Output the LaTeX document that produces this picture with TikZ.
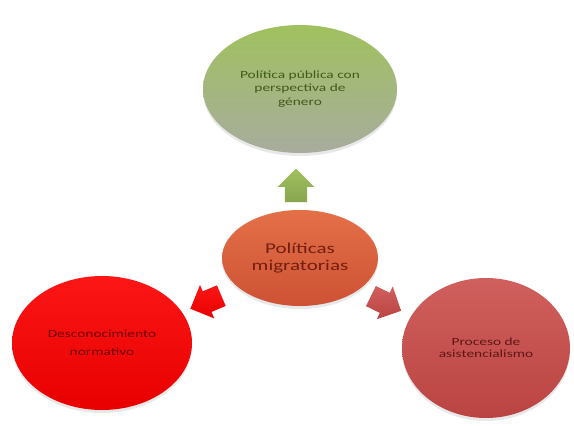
\documentclass[tikz,border=0pt]{standalone}
\usepackage{fontspec}
\setmainfont{Carlito}[FakeStretch=1.4]
\usetikzlibrary{shapes.geometric,shapes.arrows,shadows}

\definecolor{verdeA}{RGB}{160,193,94}
\definecolor{verdeB}{RGB}{168,172,158}
\definecolor{naranjaA}{RGB}{228,112,72}
\definecolor{naranjaB}{RGB}{205,82,52}
\definecolor{rojoA}{RGB}{252,22,22}
\definecolor{rojoB}{RGB}{232,0,0}
\definecolor{granaA}{RGB}{208,96,93}
\definecolor{granaB}{RGB}{186,68,66}

\begin{document}
\begin{tikzpicture}[
  x=1pt, y=-1pt,
  circulo/.style={ellipse, inner sep=0pt, align=center,
    drop shadow={opacity=0.18, shadow xshift=0pt, shadow yshift=-3pt}},
  flecha/.style={single arrow, inner sep=11pt, minimum width=36pt,
    minimum height=33pt, single arrow head extend=7pt}
]
\useasboundingbox (0,0) rectangle (574,426);

% Nodes (ellipses)
\node[circulo, minimum width=156pt, minimum height=96pt,
  top color=naranjaA, bottom color=naranjaB, text={rgb,255:red,115;green,30;blue,15},
  font=\fontsize{15}{17}\selectfont] (poli) at (300,258) {Políticas\\migratorias};
\node[circulo, minimum width=194pt, minimum height=128pt,
  top color=verdeA, bottom color=verdeB, text={rgb,255:red,65;green,90;blue,25},
  font=\fontsize{11}{13.5}\selectfont] (genero) at (300,89)
  {Política pública con\\perspectiva de\\género};
\node[circulo, minimum width=180pt, minimum height=134pt,
  top color=rojoA, bottom color=rojoB, text={rgb,255:red,110;green,0;blue,0},
  font=\fontsize{11}{18}\selectfont] (desc) at (102,343)
  {Desconocimiento\\normativo};
\node[circulo, minimum width=168pt, minimum height=140pt,
  top color=granaA, bottom color=granaB, text={rgb,255:red,95;green,22;blue,22},
  font=\fontsize{11}{12}\selectfont] (asist) at (486,348)
  {Proceso de\\asistencialismo};

% Block arrows
\node[flecha, rotate=90, top color=verdeA, bottom color=verdeA!85!black] (fgen) at (296,191) {};
\node[flecha, rotate=203, top color=rojoA, bottom color=rojoB] (fdesc) at (211,300) {};
\node[flecha, rotate=334, top color=granaA, bottom color=granaB] (fasist) at (381,301) {};

\end{tikzpicture}
\end{document}
